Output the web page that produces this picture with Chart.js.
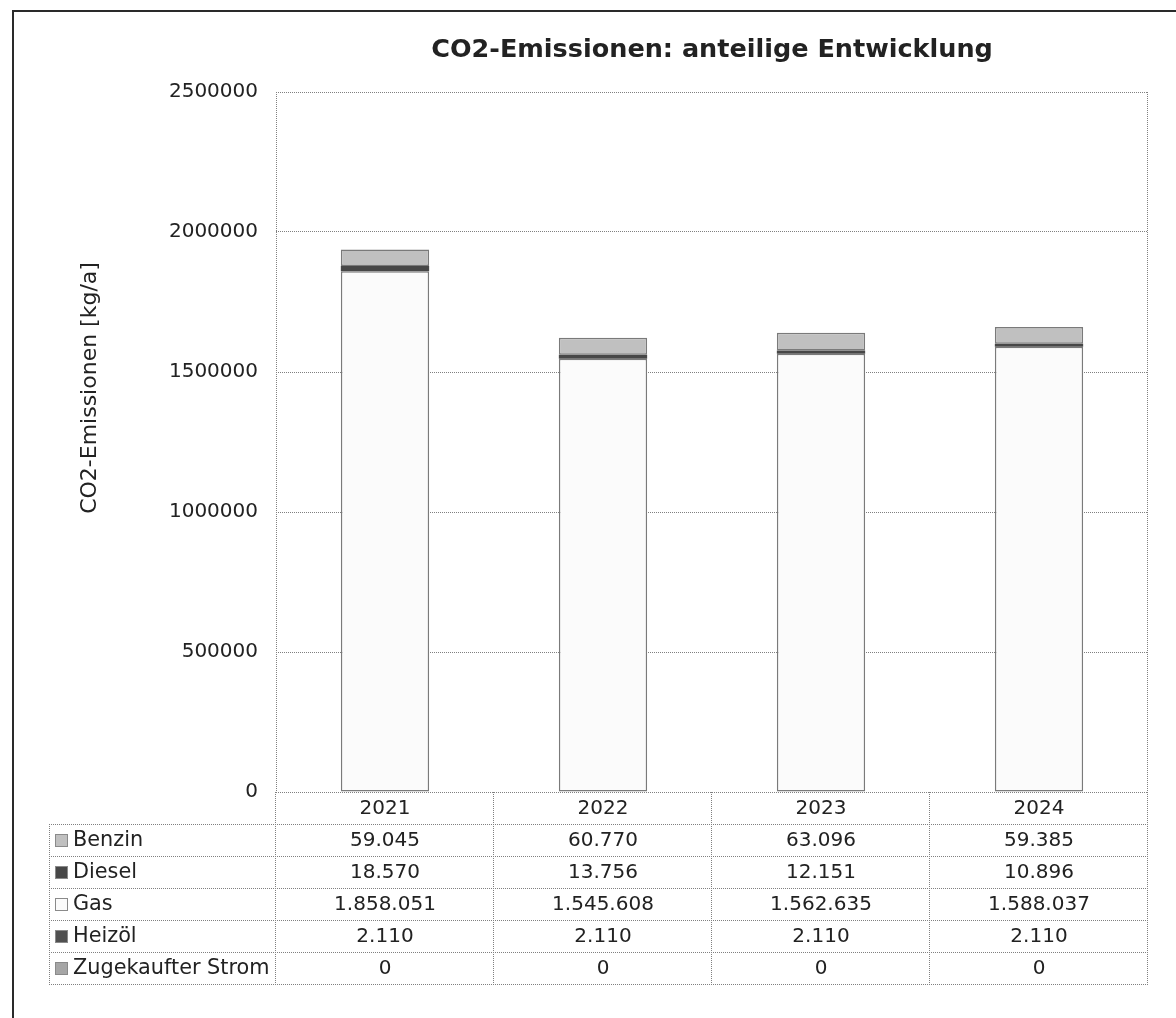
<!DOCTYPE html>
<html>
<head>
<meta charset="utf-8">
<script src="https://cdn.jsdelivr.net/npm/chart.js@4.4.1/dist/chart.umd.min.js"></script>
<style>
  html, body { margin: 0; padding: 0; background: #fff; }
  #wrap { width: 1176px; height: 1018px; position: relative; }
</style>
</head>
<body>
<div id="wrap"><canvas id="co2-chart" width="1176" height="1018"></canvas></div>
<script>
const years = ['2021', '2022', '2023', '2024'];
const benzin = [59045, 60770, 63096, 59385];
const diesel = [18570, 13756, 12151, 10896];
const gas = [1858051, 1545608, 1562635, 1588037];
const heizoel = [2110, 2110, 2110, 2110];
const strom = [0, 0, 0, 0];
const yTicks = [0, 500000, 1000000, 1500000, 2000000, 2500000];

// Table order (top to bottom); the stack is drawn the other way round
const seriesNames = ['Benzin', 'Diesel', 'Gas', 'Heizöl', 'Zugekaufter Strom'];
const seriesValues = [benzin, diesel, gas, heizoel, strom];
const seriesColors = ['#c0c0c0', '#474747', '#fbfbfb', '#505050', '#a6a6a6'];
const seriesBorders = [1.5, 0, 1.5, 0, 0];

const FONT = '"DejaVu Sans", Verdana, sans-serif';
const ROW_H = 32;

// German thousands separator
function fmt(v) {
    return String(v).replace(/\B(?=(\d{3})+(?!\d))/g, '.');
}

// Stack from the bottom: Strom, Heizöl, Gas, Diesel, Benzin
const datasets = seriesNames.map((name, i) => ({
    label: name,
    data: seriesValues[i],
    backgroundColor: seriesColors[i],
    borderColor: '#7a7a7a',
    borderWidth: seriesBorders[i],
    borderSkipped: false,
    categoryPercentage: 1,
    barPercentage: 0.405
})).reverse();

// Frame, data table, axis title and page border
const tablePlugin = {
    id: 'tablePlugin',
    afterDraw(chart) {
        const ctx = chart.ctx;
        const area = chart.chartArea;
        const x = chart.scales.x;
        const left = area.left, right = area.right;
        const tableLeft = 49;
        const top0 = area.bottom;

        ctx.save();
        ctx.strokeStyle = '#808080';
        ctx.lineWidth = 1;
        ctx.setLineDash([1, 1]);

        function line(x1, y1, x2, y2) {
            ctx.beginPath();
            ctx.moveTo(x1, y1);
            ctx.lineTo(x2, y2);
            ctx.stroke();
        }

        // plot frame
        line(left + 0.5, area.top, left + 0.5, top0);
        line(right - 0.5, area.top, right - 0.5, top0);
        line(left, area.top + 0.5, right, area.top + 0.5);

        // table grid
        const nRows = seriesNames.length;
        const bottom = top0 + ROW_H * (nRows + 1);
        for (let r = 1; r <= nRows + 1; r++) {
            const y = Math.round(top0 + ROW_H * r) + 0.5;
            line(tableLeft, y, right, y);
        }
        line(tableLeft + 0.5, top0 + ROW_H, tableLeft + 0.5, bottom);
        const bounds = [left];
        for (let i = 0; i < years.length; i++) {
            bounds.push(i === years.length - 1 ? right : (x.getPixelForValue(i) + x.getPixelForValue(i + 1)) / 2);
        }
        bounds.forEach(b => line(Math.round(b) - 0.5, top0, Math.round(b) - 0.5, bottom));
        ctx.setLineDash([]);

        // header + values
        ctx.fillStyle = '#222';
        ctx.font = '20px ' + FONT;
        ctx.textBaseline = 'middle';
        ctx.textAlign = 'center';
        years.forEach((yr, i) => {
            const cx = x.getPixelForValue(i);
            ctx.fillText(yr, cx, top0 + ROW_H / 2 + 1);
            seriesValues.forEach((vals, r) => {
                ctx.fillText(fmt(vals[i]), cx, top0 + ROW_H * (r + 1) + ROW_H / 2 + 1);
            });
        });

        // row labels with swatches
        ctx.textAlign = 'left';
        ctx.font = '20.8px ' + FONT;
        seriesNames.forEach((name, r) => {
            const cy = top0 + ROW_H * (r + 1) + ROW_H / 2;
            ctx.fillStyle = seriesColors[r];
            ctx.fillRect(55, cy - 6, 13, 13);
            ctx.strokeStyle = '#8a8a8a';
            ctx.strokeRect(55.5, cy - 5.5, 12, 12);
            ctx.fillStyle = '#222';
            ctx.fillText(name, 73, cy + 1);
        });

        // y axis title
        ctx.save();
        ctx.translate(90, 388);
        ctx.rotate(-Math.PI / 2);
        ctx.textAlign = 'center';
        ctx.font = '22px ' + FONT;
        ctx.fillText('CO2-Emissionen [kg/a]', 0, 0);
        ctx.restore();

        // page border
        ctx.strokeStyle = '#2a2a2a';
        ctx.lineWidth = 2;
        line(13, 11, 13, chart.height);
        line(12, 11, chart.width, 11);
        ctx.restore();
    }
};

const ctx = document.getElementById('co2-chart').getContext('2d');
new Chart(ctx, {
    type: 'bar',
    data: { labels: years, datasets: datasets },
    options: {
        responsive: false,
        animation: false,
        devicePixelRatio: 1,
        layout: { padding: { left: 0, right: 28, top: 0, bottom: 226 } },
        plugins: {
            legend: { display: false },
            tooltip: { enabled: false },
            title: {
                display: true,
                fullSize: false,
                text: 'CO2-Emissionen: anteilige Entwicklung',
                color: '#222',
                font: { family: FONT, size: 25.5, weight: 'bold' },
                padding: { top: 35, bottom: 26.4 }
            }
        },
        scales: {
            x: {
                display: false,
                stacked: true,
                grid: { display: false }
            },
            y: {
                stacked: true,
                min: 0,
                max: 2500000,
                afterBuildTicks: s => { s.ticks = yTicks.map(v => ({ value: v })); },
                afterFit: s => { s.width = 276; },
                grid: { color: '#808080', lineWidth: 1, drawTicks: false },
                border: { display: false, dash: [1, 1] },
                ticks: {
                    padding: 18,
                    color: '#222',
                    font: { family: FONT, size: 20 },
                    callback: v => String(v)
                }
            }
        }
    },
    plugins: [tablePlugin]
});
</script>
</body>
</html>
